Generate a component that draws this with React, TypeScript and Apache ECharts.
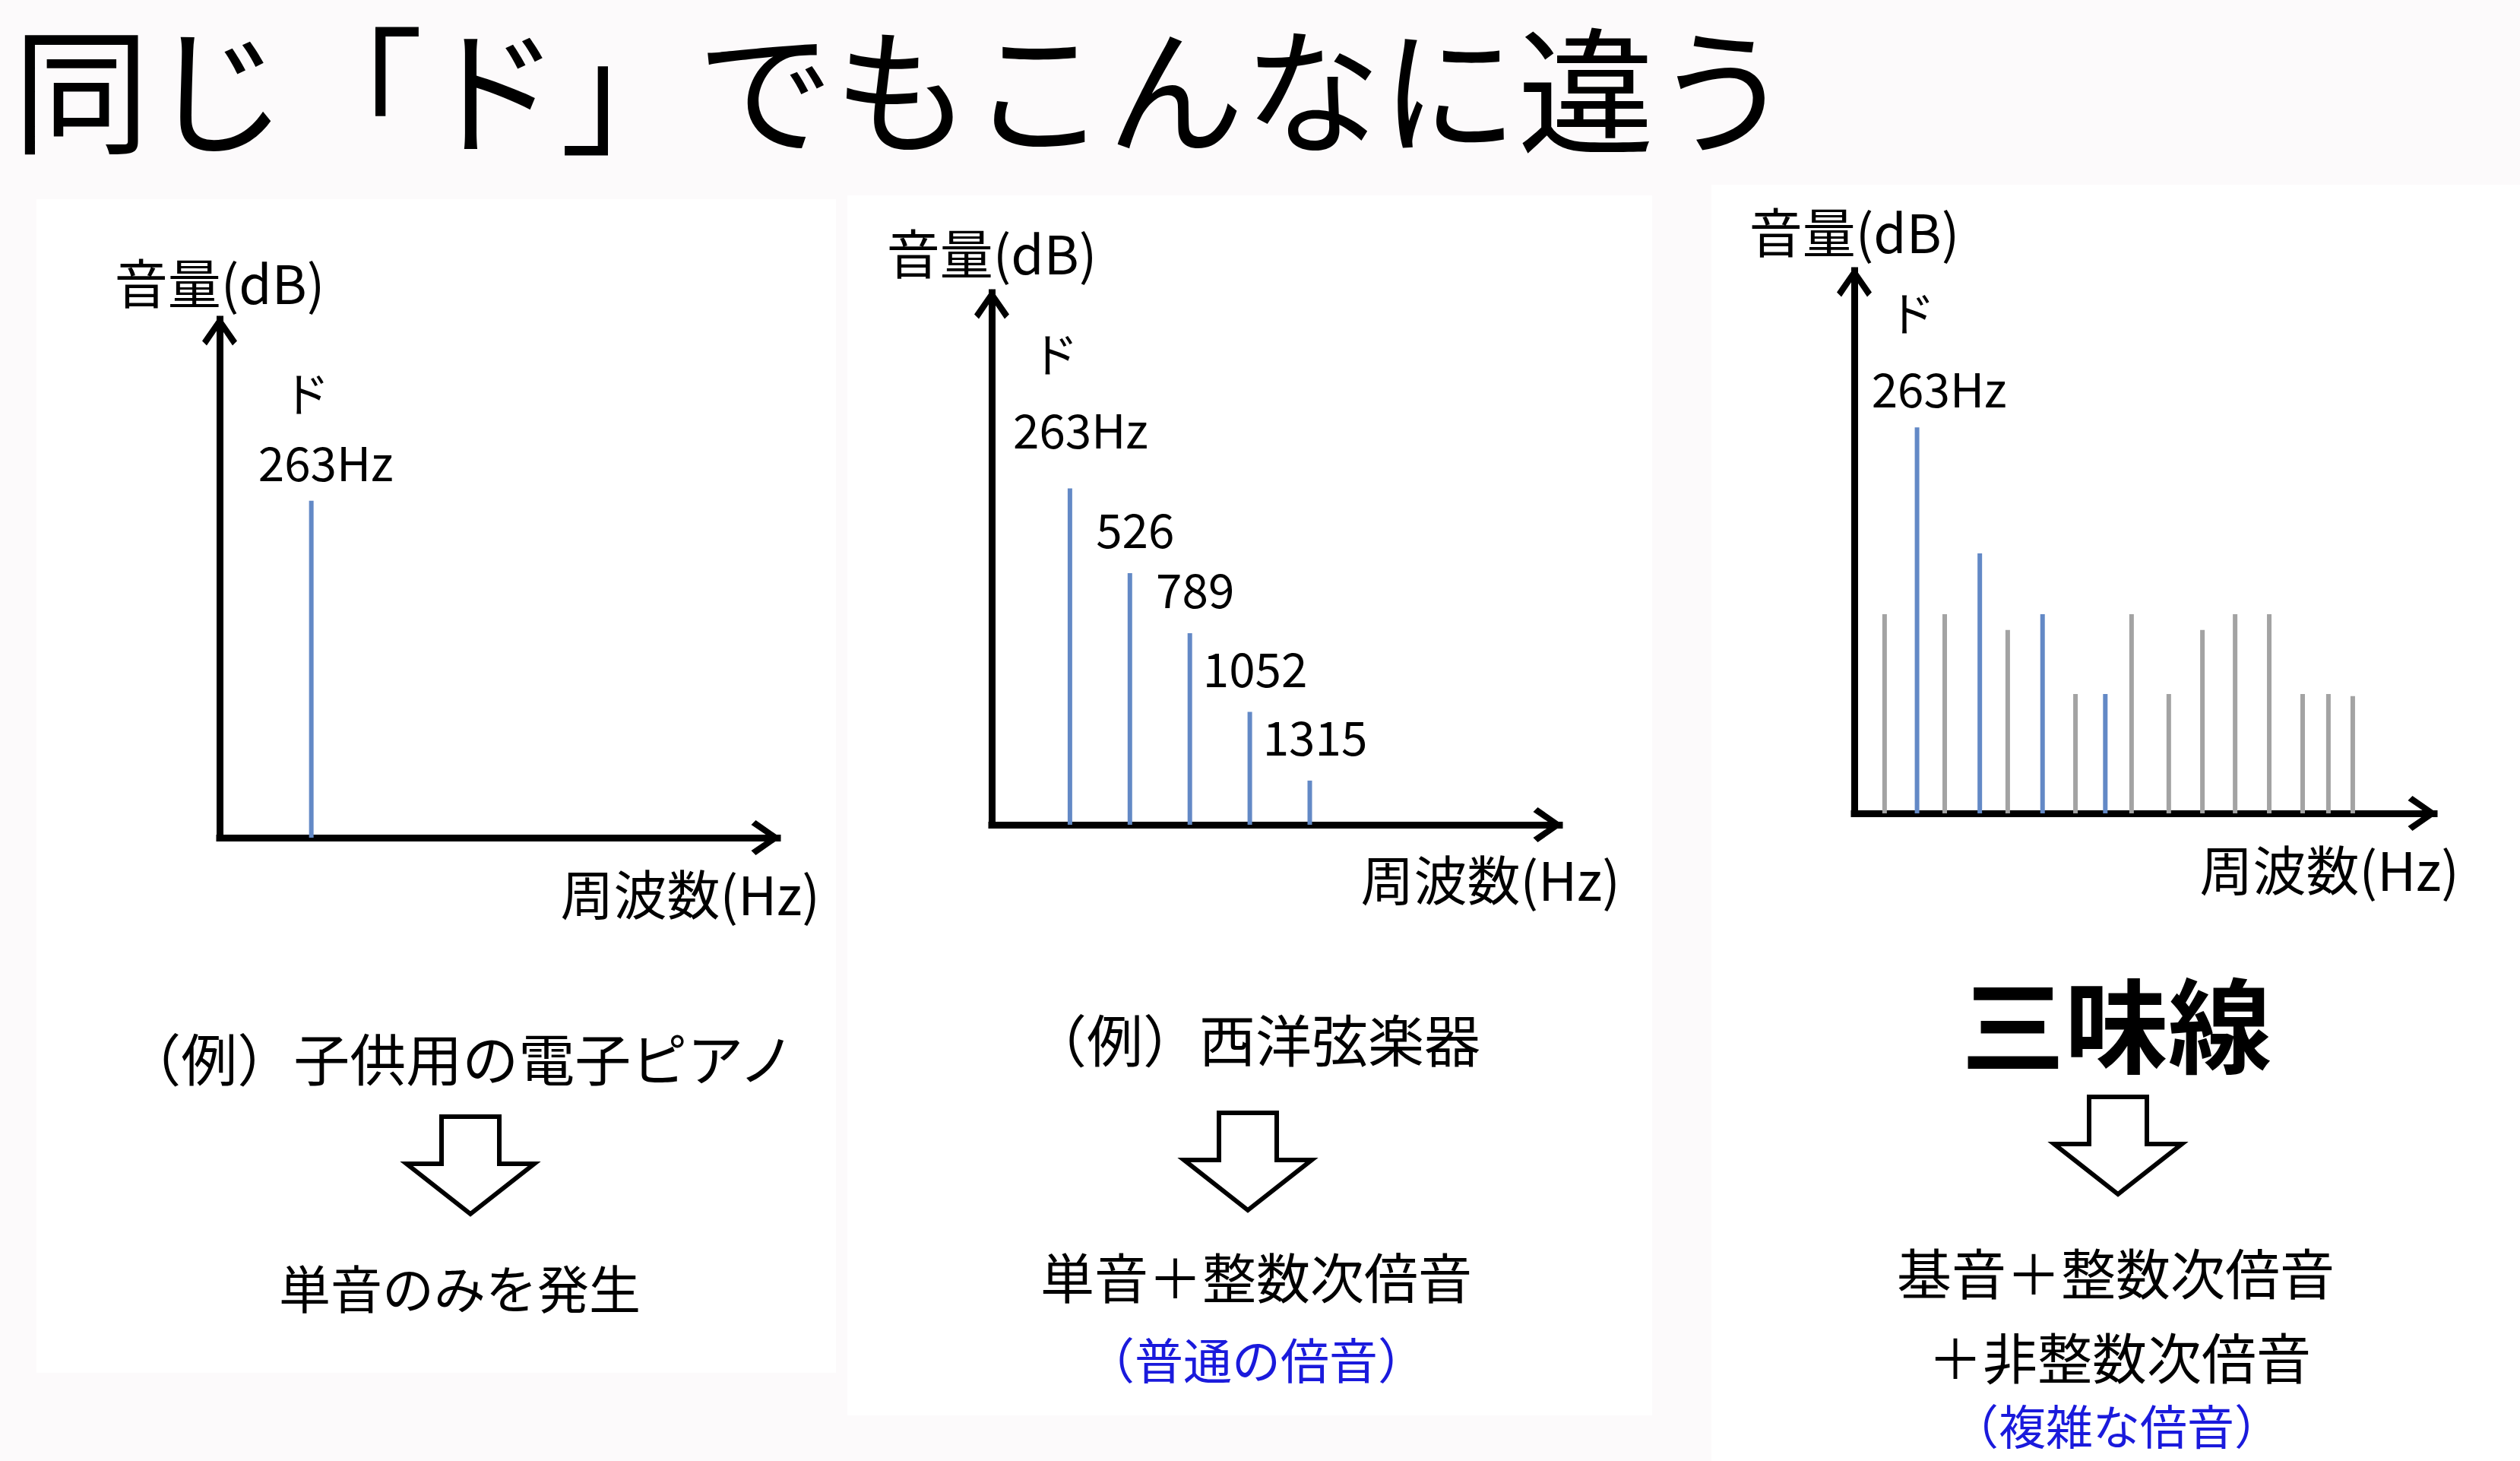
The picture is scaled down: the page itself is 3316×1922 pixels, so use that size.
import React, { useEffect, useRef } from 'react';
import * as echarts from 'echarts';

// ---------- text ----------
const TITLE = '同じ「ド」でもこんなに違う';
const NOTE = 'ド';
const Y_NAME = '音量(dB)';
const X_NAME = '周波数(Hz)';

// ---------- data ----------
// Panel 1: 子供用の電子ピアノ (single tone)
const p1Freq = [263];
const p1Level = [65];
const p1Labels = ['263Hz'];

// Panel 2: 西洋弦楽器 (integer harmonics)
const p2Freq = [263, 526, 789, 1052, 1315];
const p2Level = [63.2, 47.3, 36.0, 21.2, 8.3];
const p2Labels = ['263Hz', '526', '789', '1052', '1315'];

// Panel 3: 三味線 (integer + non-integer harmonics)
const p3HarmFreq = [263, 526, 789, 1052];
const p3HarmLevel = [71.1, 47.9, 36.7, 22.0];
const p3HarmLabels = ['263Hz'];
const p3InharmFreq = [127, 379, 643, 927, 1162, 1318, 1459, 1596, 1739, 1879, 1987, 2089];
const p3InharmLevel = [36.7, 36.7, 33.8, 22.0, 36.7, 22.0, 33.8, 36.7, 36.7, 22.0, 22.0, 21.6];

// captions
const p1Caption = '（例）子供用の電子ピアノ';
const p1Result = ['単音のみを発生'];
const p2Caption = '（例）西洋弦楽器';
const p2Result = ['単音＋整数次倍音'];
const p2Note = '（普通の倍音）';
const p3Caption = '三味線';
const p3Result = ['基音＋整数次倍音', '＋非整数次倍音'];
const p3Note = '（複雑な倍音）';

// ---------- styles ----------
const FONT = "'Noto Sans CJK JP', 'Noto Sans', sans-serif";
const BLUE = '#6389C6';
const GRAY = '#A3A3A3';
const NOTE_BLUE = '#1A1ADC';
const AXIS_W = 9;
const ARROW_W = 46;
const ARROW_H = 40;
const CHEVRON = 'path://M23,0 L46,33 L40,39 L23,14 L6,39 L0,33 Z';

const panels = [
  { grid: { left: 289, top: 420, width: 734, height: 682 }, xMin: 0, xMax: 1600, xNameGap: 56, xPad: 37, yGap: 16, dist: 7, off: [19, 0], pad: 52, lh: 91 },
  { grid: { left: 1305, top: 385, width: 747, height: 700 }, xMin: -80, xMax: 2410, xNameGap: 80, xPad: 35, yGap: 20, dist: 10, off: [7, 0], pad: 68, lh: 100 },
  { grid: { left: 2440, top: 356, width: 763, height: 714 }, xMin: 0, xMax: 2430, xNameGap: 33, xPad: 37, yGap: 19, dist: 3, off: [29, 0], pad: 72, lh: 100 },
];

function axisLine() {
  return {
    show: true,
    onZero: false,
    symbol: ['none', CHEVRON],
    symbolSize: [ARROW_W, ARROW_H],
    symbolOffset: [0, -ARROW_H / 2 + 5],
    lineStyle: { color: '#000', width: AXIS_W, cap: 'square' },
  };
}

function makeLabel(labels: string[], p: any) {
  return {
    show: true,
    position: 'top',
    distance: p.dist,
    offset: p.off,
    color: '#000',
    formatter: (q: any) => {
      const t = labels[q.dataIndex];
      if (t == null) return '';
      return q.dataIndex === 0 ? `{d|${NOTE}}\n{v|${t}}` : `{v|${t}}`;
    },
    rich: {
      d: { fontSize: 62, lineHeight: p.lh, fontFamily: FONT, color: '#000', padding: [0, p.pad, 0, 0] },
      v: { fontSize: 62, lineHeight: p.lh, fontFamily: FONT, color: '#000' },
    },
  };
}

function pairs(f: number[], v: number[]) {
  return f.map((x, i) => [x, v[i]]);
}

function hollowArrow(cx: number, ty: number) {
  const sw = 38, hw = 84, sh = 62, th = 128;
  return {
    type: 'polygon',
    shape: {
      points: [
        [cx - sw, ty], [cx + sw, ty], [cx + sw, ty + sh], [cx + hw, ty + sh],
        [cx, ty + th], [cx - hw, ty + sh], [cx - sw, ty + sh],
      ],
    },
    style: { fill: '#fff', stroke: '#000', lineWidth: 6, lineJoin: 'miter' },
    z: 5,
  };
}

function txt(text: string, x: number, y: number, size: number, color = '#000', weight = 'normal') {
  return {
    type: 'text',
    x,
    y,
    z: 5,
    style: {
      text,
      fontSize: size,
      fontFamily: FONT,
      fontWeight: weight,
      fill: color,
      align: 'center',
      verticalAlign: 'middle',
      textAlign: 'center',
      textVerticalAlign: 'middle',
    },
  };
}

function bgRect(x: number, y: number, w: number, h: number) {
  return { type: 'rect', shape: { x, y, width: w, height: h }, style: { fill: '#FFFFFF' }, z: -1, silent: true };
}

function buildOption() {
  const grid = panels.map((p) => ({ ...p.grid, containLabel: false }));
  const xAxis = panels.map((p, i) => ({
    type: 'value',
    gridIndex: i,
    min: p.xMin,
    max: p.xMax,
    name: X_NAME,
    nameLocation: 'end',
    nameGap: p.xNameGap,
    nameTextStyle: { fontSize: 70, fontFamily: FONT, color: '#000', align: 'right', verticalAlign: 'top', padding: [p.xPad, 0, 0, 0] },
    axisLine: axisLine(),
    axisTick: { show: false },
    axisLabel: { show: false },
    splitLine: { show: false },
  }));
  const yAxis = panels.map((p, i) => ({
    type: 'value',
    gridIndex: i,
    min: 0,
    max: 100,
    name: Y_NAME,
    nameLocation: 'end',
    nameGap: p.yGap,
    nameTextStyle: { fontSize: 70, fontFamily: FONT, color: '#000' },
    axisLine: axisLine(),
    axisTick: { show: false },
    axisLabel: { show: false },
    splitLine: { show: false },
  }));

  const p2Data: any[] = pairs(p2Freq, p2Level).map((d, i) =>
    i === 0 ? { value: d, label: { distance: 30, offset: [14, 0] } } : { value: d }
  );

  const series: any[] = [
    {
      name: '電子ピアノ',
      type: 'bar',
      xAxisIndex: 0,
      yAxisIndex: 0,
      barWidth: 6,
      itemStyle: { color: BLUE },
      data: pairs(p1Freq, p1Level),
      label: makeLabel(p1Labels, panels[0]),
    },
    {
      name: '西洋弦楽器',
      type: 'bar',
      xAxisIndex: 1,
      yAxisIndex: 1,
      barWidth: 6,
      itemStyle: { color: BLUE },
      data: p2Data,
      label: makeLabel(p2Labels, panels[1]),
    },
    {
      name: '三味線 非整数次倍音',
      type: 'bar',
      xAxisIndex: 2,
      yAxisIndex: 2,
      barWidth: 6,
      barGap: '-100%',
      itemStyle: { color: GRAY },
      data: pairs(p3InharmFreq, p3InharmLevel),
    },
    {
      name: '三味線 整数次倍音',
      type: 'bar',
      xAxisIndex: 2,
      yAxisIndex: 2,
      barWidth: 6,
      barGap: '-100%',
      itemStyle: { color: BLUE },
      data: pairs(p3HarmFreq, p3HarmLevel),
      label: makeLabel(p3HarmLabels, panels[2]),
    },
  ];

  const graphic: any[] = [
    bgRect(48, 262, 1052, 1544),
    bgRect(1115, 257, 1059, 1605),
    bgRect(2252, 243, 1064, 1679),
    txt(p1Caption, 605, 1389, 74),
    hollowArrow(619, 1469),
    txt(p1Result[0], 605, 1692, 68),
    txt(p2Caption, 1652, 1364, 74),
    hollowArrow(1642, 1464),
    txt(p2Result[0], 1653, 1677, 71),
    txt(p2Note, 1653, 1786, 64, NOTE_BLUE),
    txt(p3Caption, 2785, 1342, 136, '#000', 'bold'),
    hollowArrow(2787, 1443),
    txt(p3Result[0], 2784, 1671, 72),
    txt(p3Result[1], 2789, 1782, 72),
    txt(p3Note, 2785, 1874, 62, NOTE_BLUE),
  ];

  return {
    animation: false,
    backgroundColor: '#FCFAFB',
    title: {
      text: TITLE,
      left: 12,
      top: 14,
      textStyle: { fontSize: 180, fontFamily: FONT, fontWeight: 'normal', color: '#000' },
    },
    grid,
    xAxis,
    yAxis,
    series,
    graphic,
  };
}

export default function App() {
  const ref = useRef<HTMLDivElement>(null);
  useEffect(() => {
    if (!ref.current) return;
    const chart = echarts.init(ref.current, null, { renderer: 'svg' });
    chart.setOption(buildOption() as any);
    return () => chart.dispose();
  }, []);
  return (
    <div
      ref={ref}
      style={{ position: 'absolute', left: 0, top: 0, width: 3316, height: 1922 }}
    />
  );
}
